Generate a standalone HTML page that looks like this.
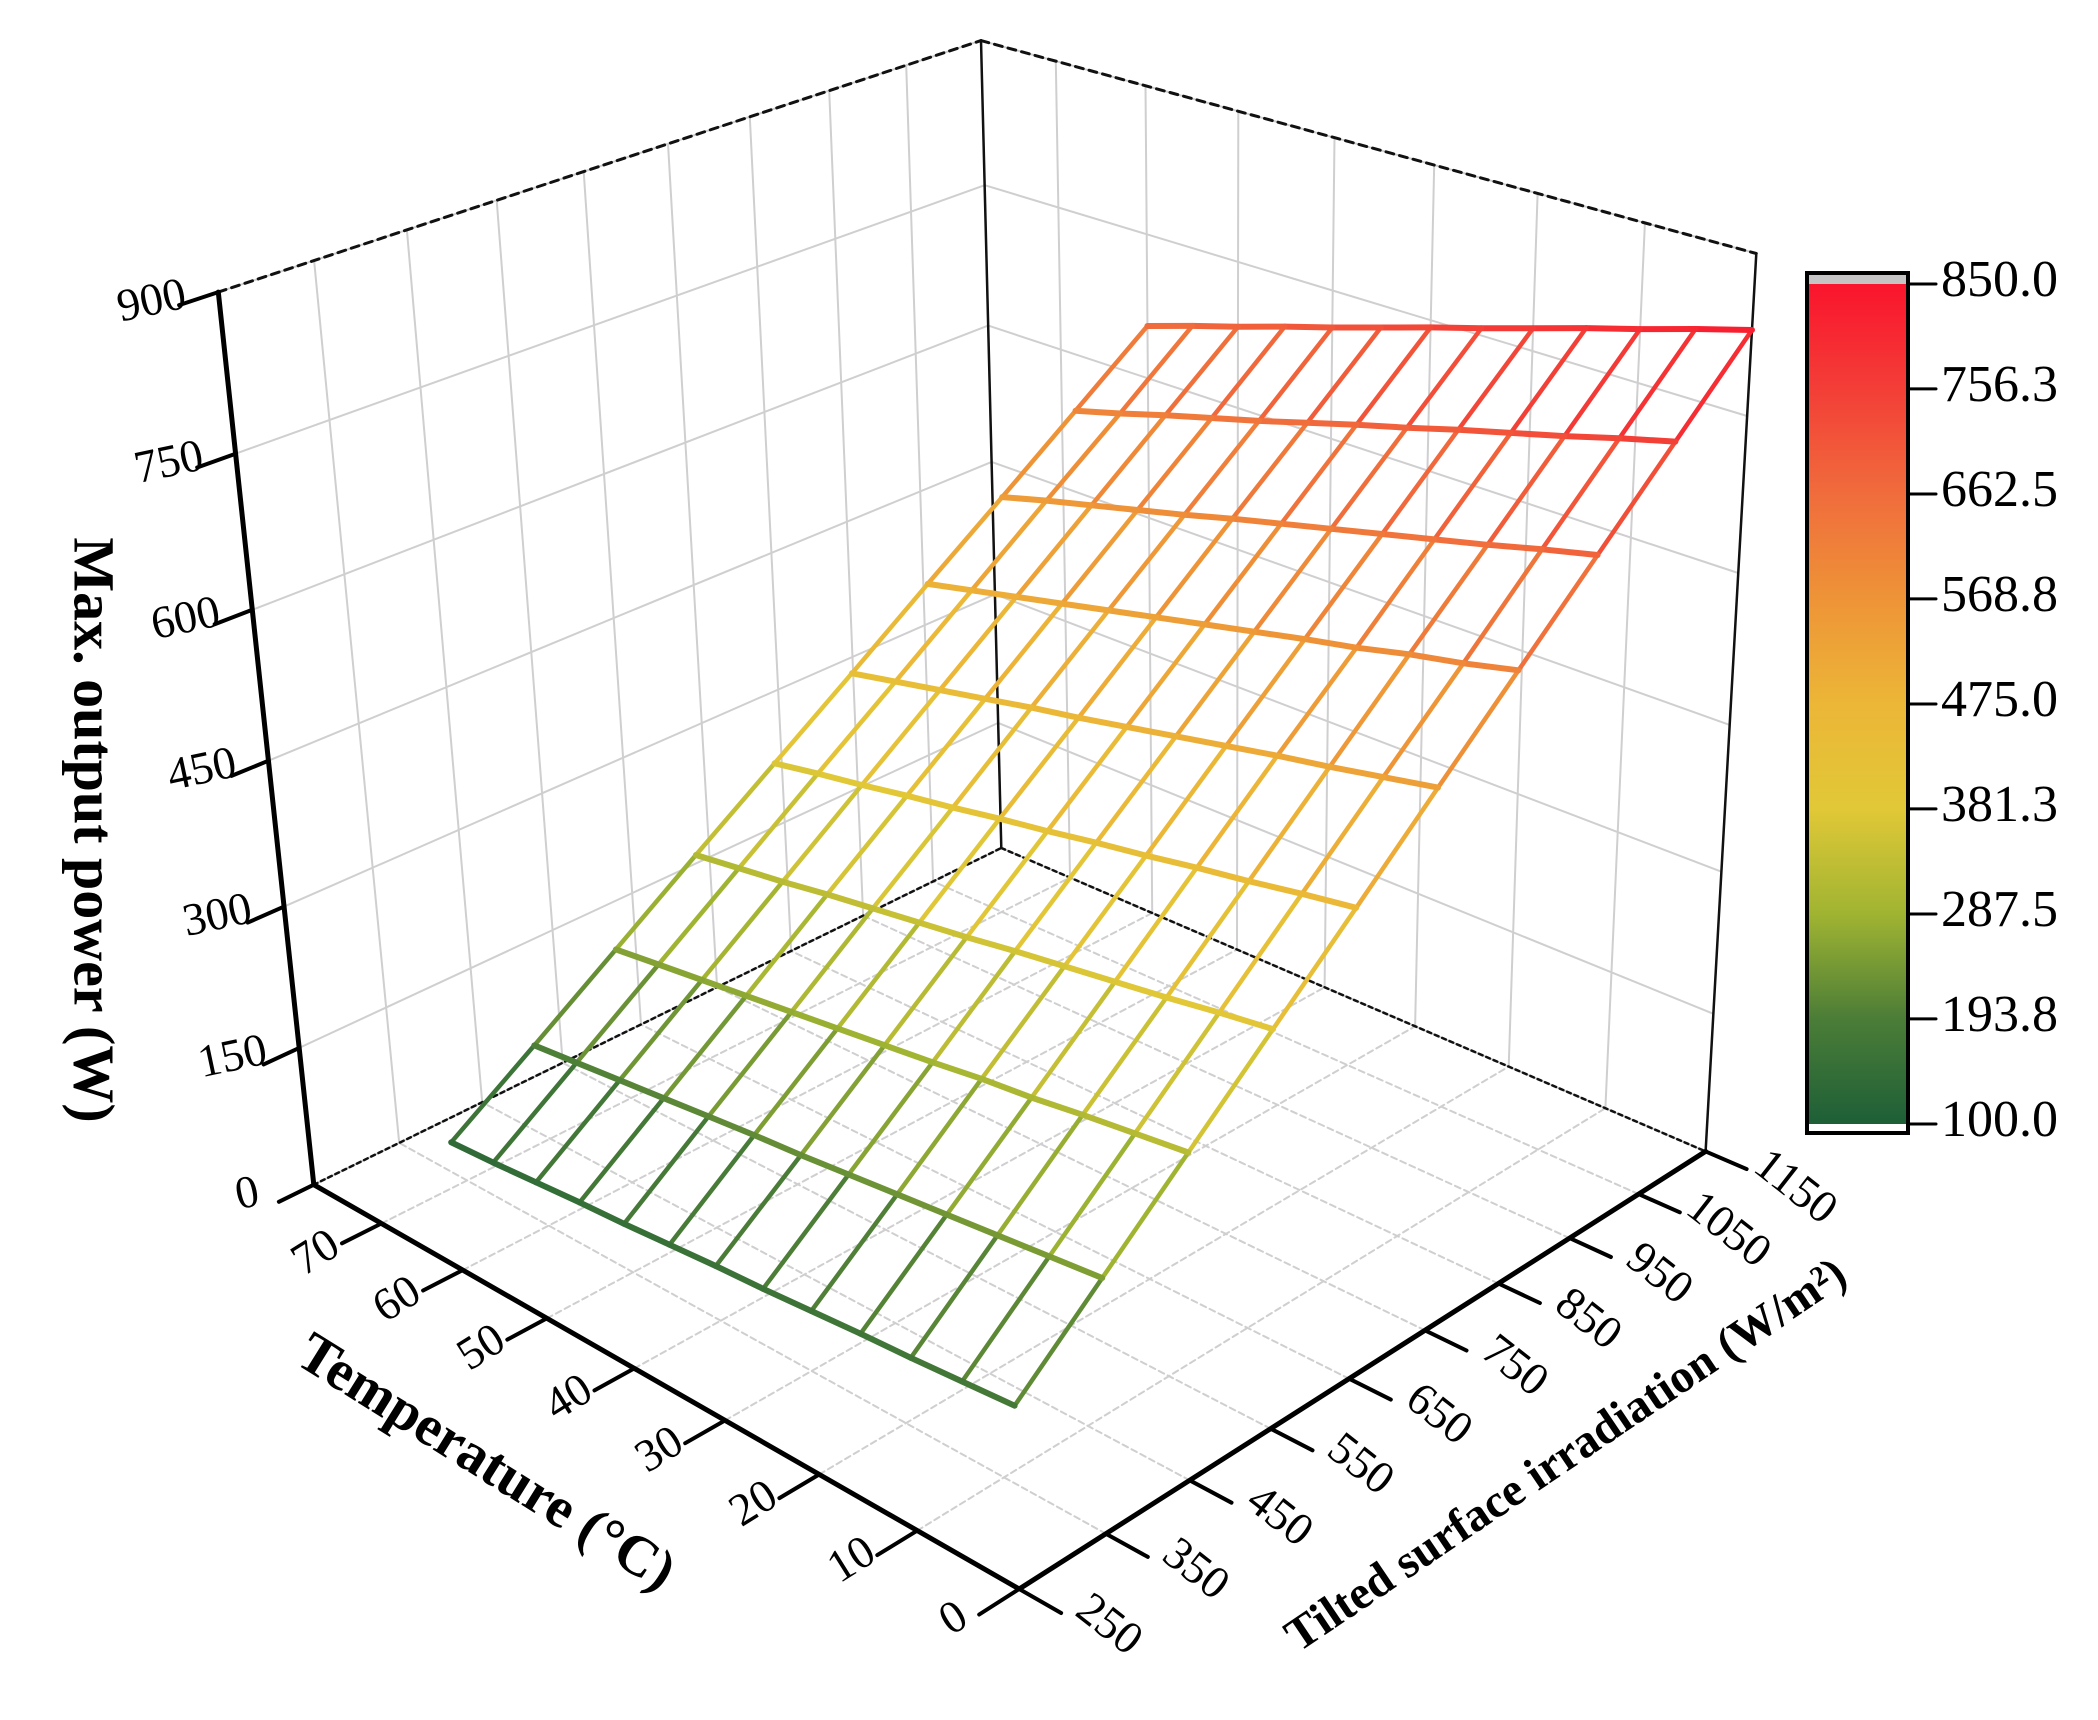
<!DOCTYPE html>
<html><head><meta charset="utf-8"><style>
html,body{margin:0;padding:0;background:#fff;}
svg{display:block;font-family:"Liberation Serif",serif;}
</style></head><body>
<svg id="chart" xmlns="http://www.w3.org/2000/svg" width="2098" height="1720" viewBox="0 0 2098 1720">
<rect x="0" y="0" width="2098" height="1720" fill="#fff"/>
<g id="grid"></g>
<g id="box"></g>
<g id="surf"></g>
<g id="axes"></g>
<g id="cbar"></g>
<text x="0" y="0" transform="translate(88,830) rotate(90)" text-anchor="middle" dominant-baseline="middle" font-size="58" font-weight="bold">Max. output power (W)</text>
<text x="0" y="0" transform="translate(484,1466) rotate(32)" text-anchor="middle" dominant-baseline="middle" font-size="57" font-weight="bold">Temperature (°C)</text>
<text x="0" y="0" transform="translate(1568,1458) rotate(-34)" text-anchor="middle" dominant-baseline="middle" font-size="47" font-weight="bold">Tilted surface irradiation (W/m²)</text>
</svg>
<script>
// ---- data ----
var temperatures = [0,5,10,15,20,25,30,35,40,45,50,55,60];
var irradiances = [250,350,450,550,650,750,850,950,1050,1150];
var powerRows = [
 [181,177,173,170,166,162,159,155,151,148,144,140,137],
 [253,248,243,238,233,228,223,219,214,209,204,199,194],
 [325,319,313,306,301,294,288,282,276,270,264,258,252],
 [397,390,382,375,368,361,353,346,339,332,324,317,310],
 [469,461,452,444,435,427,418,410,401,393,384,376,367],
 [542,532,522,513,503,493,483,473,464,454,444,434,424],
 [614,602,592,580,570,559,548,537,526,515,504,493,482],
 [686,674,661,649,637,625,613,601,588,576,564,552,539],
 [758,745,731,718,705,691,678,664,650,637,624,610,597],
 [830,816,801,787,772,757,743,728,713,699,684,670,655]
];
var tempTicks = [0,10,20,30,40,50,60,70];
var irrTicks = [250,350,450,550,650,750,850,950,1050,1150];
var zTicks = [0,150,300,450,600,750,900];
var cbarTicks = ["100.0","193.8","287.5","381.3","475.0","568.8","662.5","756.3","850.0"];
var cbarMin = 100, cbarMax = 850;

// ---- projection (fitted DLT) ----
var TM = 78.6, G0 = 250, G1 = 1150, ZM = 900;
var fitPts = [
 [0,0,0,1018,1588],[10/TM,0,0,913,1532],[60/TM,0,0,463,1272],[70/TM,0,0,382,1223],
 [1,0,0,314,1183],[0,100/900,0,1108,1532],[0,800/900,0,1642,1193],[0,1,0,1704,1152],
 [1,1,0,1001,847],[1,0,1,218,291],[1,0,750/900,237,452],[1,0,150/900,300,1052],
 [1,1,1,981,41],[1,1,750/900,983,185],[0,1,1,1757,255]
];
function solve(A,b){var n=b.length;for(var i=0;i<n;i++){var mx=i;for(var r=i+1;r<n;r++)if(Math.abs(A[r][i])>Math.abs(A[mx][i]))mx=r;
 var t=A[i];A[i]=A[mx];A[mx]=t;t=b[i];b[i]=b[mx];b[mx]=t;
 for(var r=i+1;r<n;r++){var f=A[r][i]/A[i][i];for(var c=i;c<n;c++)A[r][c]-=f*A[i][c];b[r]-=f*b[i];}}
 var x=new Array(n);for(var i=n-1;i>=0;i--){var s=b[i];for(var c=i+1;c<n;c++)s-=A[i][c]*x[c];x[i]=s/A[i][i];}return x;}
var rows=[],rhs=[];
fitPts.forEach(function(p){var X=p[0],Y=p[1],Z=p[2],x=p[3]/1000,y=p[4]/1000;
 rows.push([X,Y,Z,1,0,0,0,0,-x*X,-x*Y,-x*Z]);rhs.push(x);
 rows.push([0,0,0,0,X,Y,Z,1,-y*X,-y*Y,-y*Z]);rhs.push(y);});
var N=[],B=[];for(var i=0;i<11;i++){N.push(new Array(11).fill(0));B.push(0);}
for(var k=0;k<rows.length;k++){for(var i=0;i<11;i++){B[i]+=rows[k][i]*rhs[k];for(var j=0;j<11;j++)N[i][j]+=rows[k][i]*rows[k][j];}}
var P=solve(N,B);
function projN(u,v,w){var d=P[8]*u+P[9]*v+P[10]*w+1;
 return [1000*(P[0]*u+P[1]*v+P[2]*w+P[3])/d,1000*(P[4]*u+P[5]*v+P[6]*w+P[7])/d];}
function proj(T,G,Z){return projN(T/TM,(G-G0)/(G1-G0),Z/ZM);}

var NS="http://www.w3.org/2000/svg";
function line(g,a,b,stroke,w,dash){var l=document.createElementNS(NS,"line");
 l.setAttribute("x1",a[0].toFixed(1));l.setAttribute("y1",a[1].toFixed(1));
 l.setAttribute("x2",b[0].toFixed(1));l.setAttribute("y2",b[1].toFixed(1));
 l.setAttribute("stroke",stroke);l.setAttribute("stroke-width",w);l.setAttribute("stroke-linecap","round");
 if(dash)l.setAttribute("stroke-dasharray",dash);g.appendChild(l);return l;}
function txt(g,x,y,s,size,rot,anchor){var t=document.createElementNS(NS,"text");
 t.setAttribute("x",0);t.setAttribute("y",0);t.setAttribute("font-size",size);
 t.setAttribute("text-anchor",anchor||"middle");t.setAttribute("dominant-baseline","middle");
 t.setAttribute("transform","translate("+x.toFixed(1)+","+y.toFixed(1)+") rotate("+rot+")");
 t.textContent=s;g.appendChild(t);return t;}

// ---- gridlines ----
var grid=document.getElementById("grid");var gc="#cfcfcf";
zTicks.forEach(function(z){
 var l=line(grid,proj(TM,G0,z),proj(TM,G1,z),gc,2);
 
 
 var l2=line(grid,proj(TM,G1,z),proj(0,G1,z),gc,2);
 
 });
irrTicks.forEach(function(g){
 var l=line(grid,proj(TM,g,0),proj(TM,g,ZM),gc,2);
 
 
 var l2=line(grid,proj(0,g,0),proj(TM,g,0),gc,2,"6,4");
 
 });
tempTicks.forEach(function(t){
 var l=line(grid,proj(t,G1,0),proj(t,G1,ZM),gc,2);
 
 
 var l2=line(grid,proj(t,G0,0),proj(t,G1,0),gc,2,"6,4");
 
 });

// ---- box edges ----
var box=document.getElementById("box");
var e;
e=line(box,proj(TM,G0,ZM),proj(TM,G1,ZM),"#111",3,"8,6");


e=line(box,proj(TM,G1,ZM),proj(0,G1,ZM),"#111",3,"8,6");


e=line(box,proj(TM,G0,0),proj(TM,G1,0),"#111",2.5,"4,4");


e=line(box,proj(TM,G1,0),proj(0,G1,0),"#111",2.5,"4,4");


e=line(box,proj(TM,G1,0),proj(TM,G1,ZM),"#111",2.5);


e=line(box,proj(0,G1,0),proj(0,G1,ZM),"#111",2.5);



// ---- colormap ----
var cmV=[100,193.8,287.5,381.3,475,568.8,662.5,756.3,850];
var cmC=[[30,95,55],[75,125,55],[160,180,50],[225,200,55],[236,182,55],[238,148,55],[240,108,60],[243,62,55],[250,20,45]];
function cmap(v){if(v<=cmV[0])return cmC[0];for(var i=1;i<cmV.length;i++){if(v<=cmV[i]){var f=(v-cmV[i-1])/(cmV[i]-cmV[i-1]);
 return [0,1,2].map(function(k){return Math.round(cmC[i-1][k]+f*(cmC[i][k]-cmC[i-1][k]));});}}return cmC[cmC.length-1];}
function rgb(c){return "rgb("+c[0]+","+c[1]+","+c[2]+")";}

// ---- surface ----
var surf=document.getElementById("surf");
for(var ti=0;ti<temperatures.length;ti++){
 for(var gi=0;gi<irradiances.length-1;gi++){
  var a=powerRows[gi][ti],b=powerRows[gi+1][ti];
  var s=line(surf,proj(temperatures[ti],irradiances[gi],a),proj(temperatures[ti],irradiances[gi+1],b),rgb(cmap((a+b)/2)),4.5);
  
  }}
for(var gi=0;gi<irradiances.length;gi++){
 for(var ti=0;ti<temperatures.length-1;ti++){
  var a=powerRows[gi][ti],b=powerRows[gi][ti+1];
  var s=line(surf,proj(temperatures[ti],irradiances[gi],a),proj(temperatures[ti+1],irradiances[gi],b),rgb(cmap((a+b)/2)),6);
  
  }}

// ---- axes ----
var ax=document.getElementById("axes");
e=line(ax,proj(0,G0,0),proj(TM,G0,0),"#000",5);


e=line(ax,proj(0,G0,0),proj(0,G1,0),"#000",5);


e=line(ax,proj(TM,G0,0),proj(TM,G0,ZM),"#000",5);


tempTicks.forEach(function(t){var p=proj(t,G0,0);var q=proj(t,G0-45,0);
 var k=line(ax,p,q,"#000",4);
 
 
 var l=txt(ax,p[0]-64,p[1]+32,String(t),46,-32);
 
 });
irrTicks.forEach(function(g){var p=proj(0,g,0);var q=proj(-4,g,0);
 var k=line(ax,p,q,"#000",4);
 
 
 var l=txt(ax,p[0]+88,p[1]+38,String(g),46,38);
 
 });
zTicks.forEach(function(z){var p=proj(TM,G0,z);var q=proj(TM,G0-40,z);
 var k=line(ax,p,q,"#000",4);
 
 
 var l=txt(ax,p[0]-66,p[1]+12,String(z),46,-12);
 
 });

// ---- colorbar ----
var cb=document.getElementById("cbar");
var cbX=1807,cbW=101,cbTop=284,cbBot=1124;
function cbY(v){return cbBot-(v-cbarMin)/(cbarMax-cbarMin)*(cbBot-cbTop);}
var defs=document.createElementNS(NS,"defs");var lg=document.createElementNS(NS,"linearGradient");
lg.setAttribute("id","cbg");lg.setAttribute("x1","0");lg.setAttribute("y1","1");lg.setAttribute("x2","0");lg.setAttribute("y2","0");
cmV.forEach(function(v,i){var st=document.createElementNS(NS,"stop");st.setAttribute("offset",((v-cbarMin)/(cbarMax-cbarMin)).toFixed(4));st.setAttribute("stop-color",rgb(cmC[i]));lg.appendChild(st);});
defs.appendChild(lg);cb.appendChild(defs);
function rect(x,y,w,h,f,s,sw){var r=document.createElementNS(NS,"rect");r.setAttribute("x",x);r.setAttribute("y",y);r.setAttribute("width",w);r.setAttribute("height",h);r.setAttribute("fill",f);if(s){r.setAttribute("stroke",s);r.setAttribute("stroke-width",sw);}cb.appendChild(r);return r;}
var r0=rect(cbX,273,cbW,cbTop-273,"#c4c4c4");


var r1=rect(cbX,cbTop,cbW,cbBot-cbTop,"url(#cbg)");


var r2=rect(cbX,273,cbW,1133-273,"none","#000",4);


cbarTicks.forEach(function(s){var y=cbY(parseFloat(s));
 var k=line(cb,[cbX+cbW,y],[cbX+cbW+28,y],"#000",3);
 
 
 var l=txt(cb,cbX+cbW+33,y,s,52,0,"start");
 
 });
</script>
</body></html>
